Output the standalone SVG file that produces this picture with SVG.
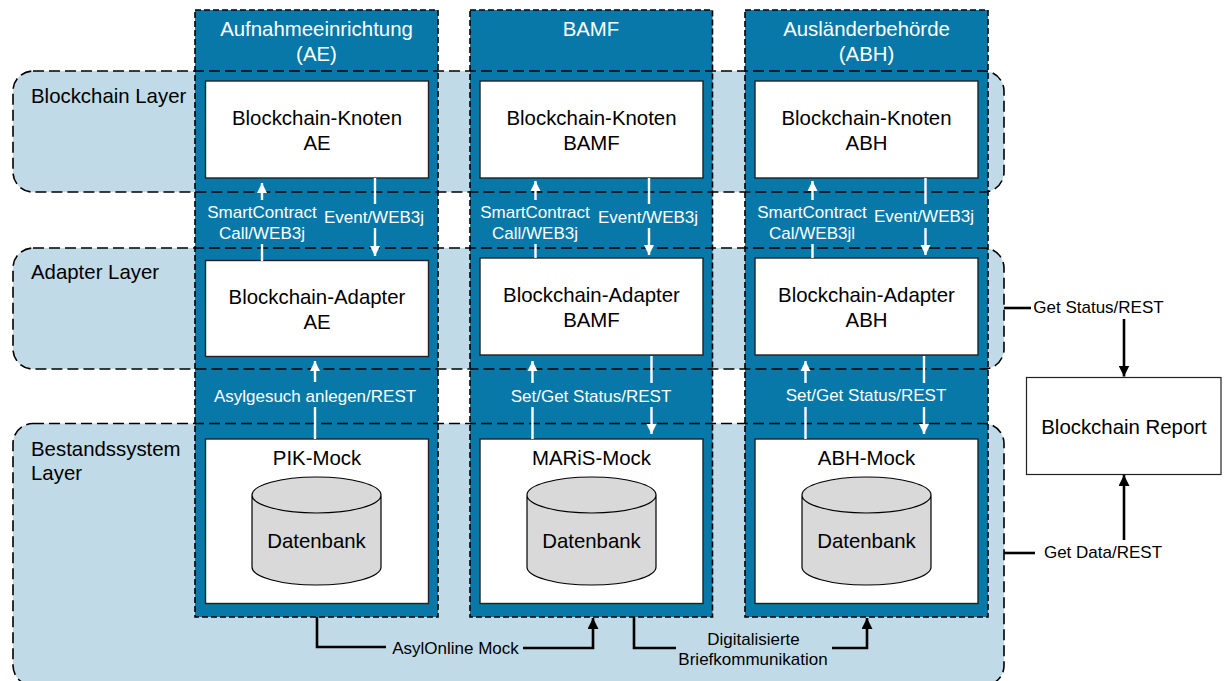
<svg xmlns="http://www.w3.org/2000/svg" width="1225" height="681" viewBox="0 0 1225 681">
<style>
text{font-family:"Liberation Sans",Arial,sans-serif;text-anchor:middle;fill:#000}
.l{font-size:20.400px;text-anchor:start}
.h{font-size:20.400px;fill:#fff}
.n{font-size:20.400px}
.w{font-size:17px;fill:#fff}
.b{font-size:17px}
.layer{fill:#c0dbe7}
.ld{fill:none;stroke:#000;stroke-width:1.6;stroke-dasharray:11 5}
.col{fill:#0878a8}
.cd{fill:none;stroke:#000;stroke-width:1.6;stroke-dasharray:6 3}
.box{fill:#fff;stroke:#222;stroke-width:1.4}
.cyl{fill:#d9d9d9;stroke:#000;stroke-width:1.2}
.cw{fill:none;stroke:#fff;stroke-width:2.4}
.ck{fill:none;stroke:#000;stroke-width:2.600}
</style>
<defs>
<marker id="aw" viewBox="0 0 10 10" refX="10" refY="5" markerUnits="userSpaceOnUse" markerWidth="10" markerHeight="11" orient="auto"><path d="M0 0L10 5L0 10Z" fill="#fff"/></marker>
<marker id="ak" viewBox="0 0 10 10" refX="10" refY="5" markerUnits="userSpaceOnUse" markerWidth="11" markerHeight="11" orient="auto"><path d="M0 0L10 5L0 10Z" fill="#000"/></marker>
</defs>
<g id="layer-fills">
<rect class="layer" x="13" y="71" width="991" height="121" rx="20"/>
<rect class="layer" x="13" y="248" width="991" height="121" rx="20"/>
<rect class="layer" x="13" y="423.500" width="991" height="262" rx="20"/>
</g>
<g id="column-fills">
<rect class="col" x="195" y="10" width="243" height="607"/>
<rect class="col" x="470" y="10" width="242.500" height="607"/>
<rect class="col" x="745" y="10" width="243" height="607"/>
</g>
<g id="layer-outlines">
<rect class="ld" x="13" y="71" width="991" height="121" rx="20"/>
<rect class="ld" x="13" y="248" width="991" height="121" rx="20"/>
<rect class="ld" x="13" y="423.500" width="991" height="262" rx="20"/>
</g>
<g id="column-outlines">
<rect class="cd" x="195" y="10" width="243" height="607"/>
<rect class="cd" x="470" y="10" width="242.500" height="607"/>
<rect class="cd" x="745" y="10" width="243" height="607"/>
</g>
<g id="layer-labels">
<text class="l" x="31" y="103">Blockchain Layer</text>
<text class="l" x="31" y="279">Adapter Layer</text>
<text class="l" x="31" y="456">Bestandssystem</text>
<text class="l" x="31" y="480">Layer</text>
</g>
<g id="col-ae"><text class="h" x="316.500" y="36">Aufnahmeeinrichtung</text><text class="h" x="316.500" y="61">(AE)</text></g>
<g id="col-bamf"><text class="h" x="591" y="36">BAMF</text></g>
<g id="col-abh"><text class="h" x="866.500" y="36">Ausländerbehörde</text><text class="h" x="866.500" y="61">(ABH)</text></g>
<g id="knoten-ae"><rect class="box" x="205.500" y="81" width="223" height="97"/><text class="n" x="317" y="125">Blockchain-Knoten</text><text class="n" x="317" y="150">AE</text></g>
<g id="knoten-bamf"><rect class="box" x="480" y="81" width="223" height="97"/><text class="n" x="591.500" y="125">Blockchain-Knoten</text><text class="n" x="591.500" y="150">BAMF</text></g>
<g id="knoten-abh"><rect class="box" x="755" y="81" width="223" height="97"/><text class="n" x="866.500" y="125">Blockchain-Knoten</text><text class="n" x="866.500" y="150">ABH</text></g>
<g id="adapter-ae"><rect class="box" x="205.500" y="260.500" width="223" height="96"/><text class="n" x="317" y="304">Blockchain-Adapter</text><text class="n" x="317" y="329">AE</text></g>
<g id="adapter-bamf"><rect class="box" x="480" y="258" width="223" height="97"/><text class="n" x="591.500" y="302">Blockchain-Adapter</text><text class="n" x="591.500" y="327">BAMF</text></g>
<g id="adapter-abh"><rect class="box" x="755" y="258" width="223" height="97"/><text class="n" x="866.500" y="302">Blockchain-Adapter</text><text class="n" x="866.500" y="327">ABH</text></g>
<g id="mock-ae"><rect class="box" x="205.500" y="439" width="223" height="164.500"/><text class="n" x="317" y="465">PIK-Mock</text>
<path class="cyl" d="M252 495V567A64.500 18 0 0 0 381 567V495A64.500 18 0 0 0 252 495A64.500 18 0 0 0 381 495"/><text class="n" x="316.500" y="548">Datenbank</text></g>
<g id="mock-bamf"><rect class="box" x="480" y="439" width="223" height="164.500"/><text class="n" x="591.500" y="465">MARiS-Mock</text>
<path class="cyl" d="M527 495V567A64.500 18 0 0 0 656 567V495A64.500 18 0 0 0 527 495A64.500 18 0 0 0 656 495"/><text class="n" x="591.500" y="548">Datenbank</text></g>
<g id="mock-abh"><rect class="box" x="755" y="439" width="223" height="164.500"/><text class="n" x="866.500" y="465">ABH-Mock</text>
<path class="cyl" d="M802 495V567A64.500 18 0 0 0 931 567V495A64.500 18 0 0 0 802 495A64.500 18 0 0 0 931 495"/><text class="n" x="866.500" y="548">Datenbank</text></g>
<g id="report"><rect fill="#fff" stroke="#222" stroke-width="1.2" x="1026.500" y="377.500" width="194.500" height="97"/><text class="n" x="1124" y="434">Blockchain Report</text></g>
<g id="connectors">
<path class="cw" d="M262 200V183" marker-end="url(#aw)"/><path class="cw" d="M262 261V244"/>
<path class="cw" d="M375 178V204"/><path class="cw" d="M375 228V256" marker-end="url(#aw)"/>
<path class="cw" d="M315 382V361" marker-end="url(#aw)"/><path class="cw" d="M315 439V407"/>
<path class="cw" d="M535.500 200V181" marker-end="url(#aw)"/><path class="cw" d="M535.500 258V244"/>
<path class="cw" d="M649 178V204"/><path class="cw" d="M649 228V255" marker-end="url(#aw)"/>
<path class="cw" d="M532.500 383V361" marker-end="url(#aw)"/><path class="cw" d="M532.500 439V407"/>
<path class="cw" d="M651.500 356V383"/><path class="cw" d="M651.500 407V434" marker-end="url(#aw)"/>
<path class="cw" d="M812.500 200V181" marker-end="url(#aw)"/><path class="cw" d="M812.500 258V244"/>
<path class="cw" d="M925.500 178V204"/><path class="cw" d="M925.500 228V255" marker-end="url(#aw)"/>
<path class="cw" d="M805.500 383V361" marker-end="url(#aw)"/><path class="cw" d="M805.500 439V407"/>
<path class="cw" d="M924 356V383"/><path class="cw" d="M924 407V434" marker-end="url(#aw)"/>
<path class="ck" d="M317 617V647H386"/>
<path class="ck" d="M523 648H593V618" marker-end="url(#ak)"/>
<path class="ck" d="M634 617V648H676"/>
<path class="ck" d="M832 648H867V618" marker-end="url(#ak)"/>
<path class="ck" d="M1004 308H1031"/>
<path class="ck" d="M1124 319V376.500" marker-end="url(#ak)"/>
<path class="ck" d="M1124 540V475" marker-end="url(#ak)"/>
<path class="ck" d="M1004 553H1035"/>
</g>
<g id="connector-labels">
<text class="w" x="262" y="218">SmartContract</text><text class="w" x="262" y="238.500">Call/WEB3j</text>
<text class="w" x="374" y="223">Event/WEB3j</text>
<text class="w" x="315" y="401.500">Asylgesuch anlegen/REST</text>
<text class="w" x="535" y="218">SmartContract</text><text class="w" x="535" y="238.500">Call/WEB3j</text>
<text class="w" x="648" y="223">Event/WEB3j</text>
<text class="w" x="591" y="402">Set/Get Status/REST</text>
<text class="w" x="812" y="218">SmartContract</text><text class="w" x="812" y="238.500">Cal/WEB3jl</text>
<text class="w" x="924" y="222">Event/WEB3j</text>
<text class="w" x="866" y="401">Set/Get Status/REST</text>
<text class="b" x="455.500" y="654">AsylOnline Mock</text>
<text class="b" x="753.500" y="645">Digitalisierte</text><text class="b" x="753" y="665">Briefkommunikation</text>
<text class="b" x="1098.500" y="313">Get Status/REST</text>
<text class="b" x="1103" y="558">Get Data/REST</text>
</g>
</svg>
